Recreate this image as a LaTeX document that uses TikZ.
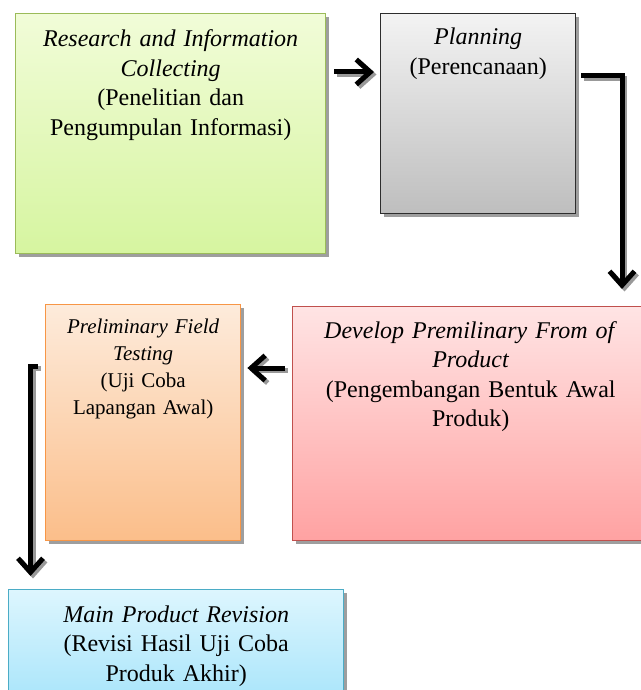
\documentclass[tikz,border=0pt]{standalone}
\usepackage{fontspec}
\setmainfont{Liberation Serif}
\usetikzlibrary{shadows,arrows.meta,calc}
\definecolor{gborder}{RGB}{155,187,89}
\definecolor{gtop}{RGB}{241,252,216}
\definecolor{gbot}{RGB}{214,245,160}
\definecolor{pborder}{RGB}{45,45,45}
\definecolor{ptop}{RGB}{243,243,243}
\definecolor{pbot}{RGB}{190,190,190}
\definecolor{rborder}{RGB}{192,80,77}
\definecolor{rtop}{RGB}{255,228,228}
\definecolor{rbot}{RGB}{255,162,162}
\definecolor{oborder}{RGB}{247,150,70}
\definecolor{otop}{RGB}{253,235,219}
\definecolor{obot}{RGB}{251,190,138}
\definecolor{bborder}{RGB}{75,172,198}
\definecolor{btop}{RGB}{221,246,254}
\definecolor{bbot}{RGB}{160,226,250}
\tikzset{
  box/.style={draw, line width=1.4pt, anchor=north west, inner sep=0pt,
    drop shadow={shadow xshift=3pt, shadow yshift=-3pt, fill=black!38, opacity=1}},
  txt/.style={anchor=base, align=center, inner sep=0pt,
    font=\fontsize{24}{29.5}\selectfont},
  smalltxt/.style={anchor=base, align=center, inner sep=0pt,
    font=\fontsize{21}{27}\selectfont},
  flow/.style={line width=5pt, -{Straight Barb[length=14pt,width=25pt]}},
  flowshadow/.style={flow, draw=black!40, transform canvas={xshift=2.5pt,yshift=-2.5pt}}
}
\begin{document}
\begin{tikzpicture}[x=1pt,y=-1pt]
\useasboundingbox[fill=white] (0,0) rectangle (640,690);
% boxes
\node[box, draw=gborder, top color=gtop, bottom color=gbot,
  minimum width=310pt, minimum height=240pt] (green) at (15,13) {};
\node[box, draw=pborder, top color=ptop, bottom color=pbot,
  minimum width=195pt, minimum height=200pt] (plan) at (380,13) {};
\node[box, draw=rborder, top color=rtop, bottom color=rbot,
  minimum width=356pt, minimum height=234pt] (dev) at (292,306) {};
\node[box, draw=oborder, top color=otop, bottom color=obot,
  minimum width=195pt, minimum height=236pt] (prelim) at (45,304) {};
\node[box, draw=bborder, top color=btop, bottom color=bbot,
  minimum width=335pt, minimum height=130pt] (main) at (8,589) {};
% texts
\node[txt, text width=305pt] (greent) at ($(green.north)+(0,34)$)
  {\textit{Research and Information}\\\textit{Collecting}\\(Penelitian dan\\Pengumpulan Informasi)};
\node[txt, text width=190pt] (plant) at ($(plan.north)+(0,32)$)
  {\textit{Planning}\\(Perencanaan)};
\node[txt, text width=345pt] (devt) at ($(dev.north)+(0,32)$)
  {\textit{Develop Premilinary From of}\\\textit{Product}\\(Pengembangan Bentuk Awal\\Produk)};
\node[smalltxt, text width=190pt] (prelimt) at ($(prelim.north)+(0,29)$)
  {\textit{Preliminary Field}\\\textit{Testing}\\(Uji Coba\\Lapangan Awal)};
\node[txt, text width=330pt] (maint) at ($(main.north)+(0,33)$)
  {\textit{Main Product Revision}\\(Revisi Hasil Uji Coba\\Produk Akhir)};
% connectors
\coordinate (a1s) at ($(green.north east)+(8,59)$);
\coordinate (a1e) at ($(plan.north west)+(-6,59)$);
\coordinate (a2s) at ($(plan.north east)+(5,63)$);
\coordinate (a2e) at ($(dev.north west)+(330,-17)$);
\coordinate (a3s) at ($(dev.north west)+(-7,62)$);
\coordinate (a3e) at ($(prelim.north east)+(6,64)$);
\coordinate (a4s) at ($(prelim.north west)+(-7,62)$);
\coordinate (a4e) at ($(main.north west)+(22.5,-13)$);
\draw[flowshadow] (a1s) -- (a1e);
\draw[flowshadow] (a2s) -| (a2e);
\draw[flowshadow] (a3s) -- (a3e);
\draw[flowshadow] (a4s) -- ++(-7.5,0) -- (a4e);
\draw[flow] (a1s) -- (a1e);
\draw[flow] (a2s) -| (a2e);
\draw[flow] (a3s) -- (a3e);
\draw[flow] (a4s) -- ++(-7.5,0) -- (a4e);
\end{tikzpicture}
\end{document}
